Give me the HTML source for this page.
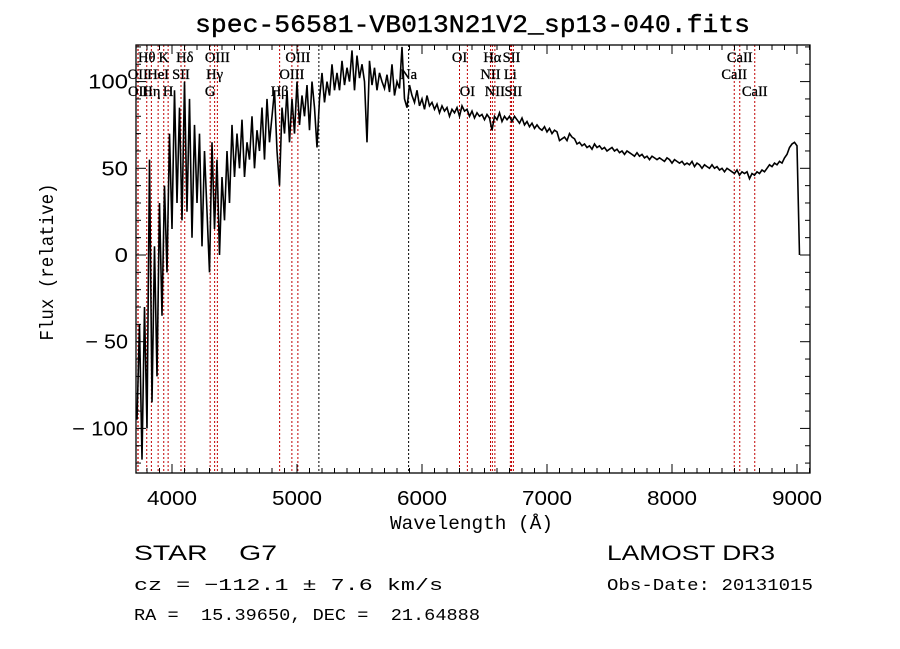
<!DOCTYPE html>
<html><head><meta charset="utf-8"><style>
html,body{margin:0;padding:0;background:#fff;}
svg{display:block;}
.mono{font-family:"Liberation Mono",monospace;}
.sans{font-family:"Liberation Sans",sans-serif;}
.ser{font-family:"Liberation Serif",serif;}
</style></head><body>
<svg id="chart" width="900" height="649" viewBox="0 0 900 649" xmlns="http://www.w3.org/2000/svg">
<rect x="0" y="0" width="900" height="649" fill="#fff"/>
<text class="mono" x="195" y="32" font-size="25" textLength="555" lengthAdjust="spacingAndGlyphs" stroke="#000" stroke-width="0.4">spec-56581-VB013N21V2_sp13-040.fits</text>
<defs><clipPath id="plotclip"><rect x="136" y="45" width="674" height="428"/></clipPath></defs>
<g id="lines" clip-path="url(#plotclip)"></g>
<g id="labels"></g>
<g id="spec" clip-path="url(#plotclip)"></g>
<rect x="136" y="45" width="674" height="428" fill="none" stroke="#000" stroke-width="1.3"/>
<g id="ticks"></g>
<text class="mono" x="390" y="529" font-size="19" textLength="163" lengthAdjust="spacingAndGlyphs">Wavelength (Å)</text>
<text class="mono" x="0" y="0" font-size="19" text-anchor="middle" textLength="157" lengthAdjust="spacingAndGlyphs" transform="translate(53,262) rotate(-90)">Flux (relative)</text>
<text class="sans" x="134" y="560" font-size="21" textLength="143" lengthAdjust="spacingAndGlyphs" xml:space="preserve">STAR    G7</text>
<text class="sans" x="607" y="560" font-size="21" textLength="168" lengthAdjust="spacingAndGlyphs">LAMOST DR3</text>
<text class="mono" x="134" y="590" font-size="17" textLength="309" lengthAdjust="spacingAndGlyphs" xml:space="preserve">cz = −112.1 ± 7.6 km/s</text>
<text class="mono" x="607" y="590" font-size="17" textLength="206" lengthAdjust="spacingAndGlyphs">Obs-Date: 20131015</text>
<text class="mono" x="134" y="620" font-size="17" textLength="346" lengthAdjust="spacingAndGlyphs" xml:space="preserve">RA =  15.39650, DEC =  21.64888</text>
</svg>
<script>
const startWave = 3720;
const waveStep = 20;
const flux = [
-95,-40,-118,-30,-100,55,-85,5,-70,30,
-35,40,-10,70,15,95,30,85,20,100,
25,90,10,75,30,70,5,60,25,-10,
65,15,55,0,45,20,60,30,75,45,
70,50,78,45,65,55,80,50,72,60,
85,55,90,65,80,95,60,40,85,70,
95,65,90,70,100,75,92,80,98,72,
100,85,62,90,105,88,100,92,110,95,
105,95,112,98,108,100,118,95,115,102,
110,100,65,112,98,108,95,105,100,96,
104,94,110,92,100,96,120,90,85,98,
92,88,95,86,90,84,92,86,88,84,
87,82,86,83,85,80,84,82,85,80,
86,83,84,80,83,79,82,80,81,78,
81,79,72,80,78,82,77,80,78,80,
77,80,78,76,79,75,77,74,76,73,
75,73,72,74,71,73,70,72,71,66,
67,68,66,70,68,67,64,65,63,64,
62,63,61,64,62,63,61,62,60,61,
62,60,61,59,60,58,60,59,58,57,
59,57,58,56,57,55,57,56,55,56,
55,54,56,55,53,55,54,53,54,52,
53,52,54,51,53,52,50,52,51,50,
52,50,51,49,50,48,50,49,48,47,
49,46,48,47,48,44,47,46,48,47,
49,48,50,52,51,53,52,54,53,56,
58,62,64,65,63,0
];
const lineNames = ["Hθ","K","Hδ","OIII","OIII","OI","Hα","SII","CaII",
"OII","HeI","SII","Hγ","OIII","Na","NII","Li","CaII",
"OII","Hη","H","G","Hβ","OI","NII","SII","CaII","Mg"];
const lineWaves = [3798,3934,4102,4363,5007,6300,6563,6716,8542,
3727,3889,4072,4341,4959,5893,6548,6707,8498,
3729,3835,3969,4305,4861,6363,6583,6731,8662,5175];
const lineRows = [0,0,0,0,0,0,0,0,0,1,1,1,1,1,1,1,1,1,2,2,2,2,2,2,2,2,2,-1];
const xTicks = [4000,5000,6000,7000,8000,9000];
const yTicks = [-100,-50,0,50,100];

const NS="http://www.w3.org/2000/svg";
const X0=136,X1=810,Y0=45,Y1=473;
function xs(w){return 172+(w-4000)*0.125;}
function ys(f){return 255-f*1.734;}
function mk(t,a,p){const e=document.createElementNS(NS,t);for(const k in a)e.setAttribute(k,a[k]);p.appendChild(e);return e;}

const gl=document.getElementById('lines'), glab=document.getElementById('labels');
lineWaves.forEach((w,i)=>{
  const l=mk('line',{x1:xs(w),x2:xs(w),y1:Y0,y2:Y1,stroke:(lineRows[i]<0||w===5893)?'#000':'#c00000','stroke-width':1,'stroke-dasharray':'2,2'},gl);
  
  
  if(lineRows[i]>=0){
    const t=mk('text',{x:xs(w),y:62+lineRows[i]*17,'font-size':14.5,'text-anchor':'middle',class:'ser',stroke:'#000','stroke-width':0.3},glab);
    t.textContent=lineNames[i];
    
    
  }
});

let d='';
flux.forEach((f,i)=>{const w=startWave+i*waveStep;d+=(i?'L':'M')+xs(w).toFixed(1)+','+ys(f).toFixed(1);});
const p=mk('path',{d:d,fill:'none',stroke:'#000','stroke-width':1.6,'stroke-linejoin':'miter'},document.getElementById('spec'));



const gt=document.getElementById('ticks');
for(let w=3800;w<=9100;w+=100){
  const maj=w%1000===0, L=maj?9:5, x=xs(w);
  mk('line',{x1:x,x2:x,y1:Y1,y2:Y1-L,stroke:'#000','stroke-width':1},gt);
  mk('line',{x1:x,x2:x,y1:Y0,y2:Y0+L,stroke:'#000','stroke-width':1},gt);
}
xTicks.forEach(w=>{
  const t=mk('text',{x:xs(w)-25,y:505,'font-size':20,textLength:50,lengthAdjust:'spacingAndGlyphs',class:'sans'},gt);
  t.textContent=String(w);
  
  
});
for(let f=-120;f<=120;f+=10){
  const maj=f%50===0, L=maj?10:5, y=ys(f);
  mk('line',{x1:X0,x2:X0+L,y1:y,y2:y,stroke:'#000','stroke-width':1},gt);
  mk('line',{x1:X1,x2:X1-L,y1:y,y2:y,stroke:'#000','stroke-width':1},gt);
}
yTicks.forEach(f=>{
  const s=f<0?('− '+Math.abs(f)):String(f);
  const w=String(Math.abs(f)).length*13.3+(f<0?16:0);
  const t=mk('text',{x:128-w,y:ys(f)+7,'font-size':20,textLength:w,lengthAdjust:'spacingAndGlyphs',class:'sans'},gt);
  t.textContent=s;
  
  
});
</script>
</body></html>
